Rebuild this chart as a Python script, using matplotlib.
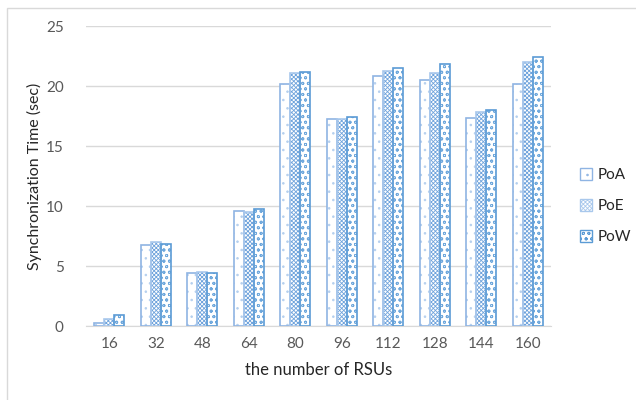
import numpy as np
import matplotlib
matplotlib.use('Agg')
import matplotlib.pyplot as plt
from matplotlib.patches import Patch, Rectangle

# 同步时间数据（秒）
rsus = ['16', '32', '48', '64', '80', '96', '112', '128', '144', '160']
poa = [0.28, 6.75, 4.39, 9.61, 20.17, 17.25, 20.86, 20.5, 17.3, 20.17]
poe = [0.55, 6.97, 4.47, 9.5, 21.06, 17.25, 21.25, 21.06, 17.8, 21.97]
pow_ = [0.9, 6.8, 4.42, 9.75, 21.14, 17.44, 21.53, 21.86, 17.97, 22.44]

plt.rcParams['font.family'] = ['Lato', 'DejaVu Sans']
plt.rcParams['hatch.linewidth'] = 0.6

fig = plt.figure(figsize=(6.36, 4.0), dpi=100)
ax = fig.add_axes([86 / 636, 74 / 400, 465 / 636, 300 / 400])

# 外边框
fig.patches.append(Rectangle((7 / 636, -0.1), 1.2, (400 - 8) / 400 + 0.1,
                             transform=fig.transFigure, fill=False,
                             edgecolor='#D9D9D9', linewidth=1))

x = np.arange(len(rsus))
w = 0.215
styles = [
    ('PoA', poa, '..', '#B4CFEE', '#8FB4E3'),
    ('PoE', poe, 'xxxxxxxx', '#6FA3DC', '#A9C8EC'),
    ('PoW', pow_, 'ooo', '#6FA8DC', '#5B9BD5'),
]
handles = []
for i, (name, vals, hatch, hcol, ecol) in enumerate(styles):
    pos = x + (i - 1) * w
    ax.bar(pos, vals, w, color='white', hatch=hatch, edgecolor=hcol,
           linewidth=0, zorder=2)
    ax.bar(pos, vals, w, fill=False, edgecolor=ecol, linewidth=1.2, zorder=3)
    handles.append(Patch(facecolor='white', hatch=hatch, edgecolor=ecol,
                         linewidth=1.0, label=name))

ax.set_xlim(-0.5, len(rsus) - 0.5)
ax.set_ylim(0, 25)
ax.set_yticks([0, 5, 10, 15, 20, 25])
ax.set_xticks(x)
ax.set_xticklabels(rsus)
ax.grid(axis='y', color='#D9D9D9', linewidth=1, zorder=0)
ax.set_axisbelow(True)
for s in ['top', 'right', 'left']:
    ax.spines[s].set_visible(False)
ax.spines['bottom'].set_color('#D9D9D9')
ax.tick_params(length=0, labelsize=11, colors='#595959', pad=8)
ax.tick_params(axis='y', pad=16)

ax.set_xlabel('the number of RSUs', fontsize=12, color='#262626', labelpad=8)
ax.set_ylabel('Synchronization Time (sec)', fontsize=11.5, color='#262626', labelpad=3)

fig.legend(handles=handles, loc='center left', bbox_to_anchor=(566 / 636, 194 / 400),
           frameon=False, fontsize=11, handlelength=0.8, handleheight=0.8,
           handletextpad=0.4, labelspacing=1.1, labelcolor='#262626')

fig.savefig('out.png', dpi=100)
